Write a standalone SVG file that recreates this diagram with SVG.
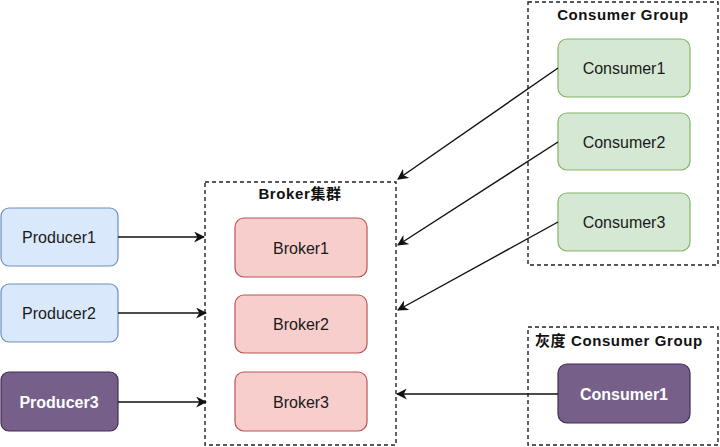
<svg xmlns="http://www.w3.org/2000/svg" width="720" height="447" viewBox="0 0 720 447">
  <style>
    .lbl { font-family: "Liberation Sans", "Noto Sans CJK SC", sans-serif; font-size: 16px; text-anchor: middle; dominant-baseline: central; fill: #1a1a1a; }
    .ttl { font-family: "Liberation Sans", "Noto Sans CJK SC", sans-serif; font-size: 15px; font-weight: bold; letter-spacing: 0.6px; dominant-baseline: central; fill: #111; }
    .grp { fill: none; stroke: #222; stroke-width: 1.4; stroke-dasharray: 4 3; }
    .prod { fill: #dae8fc; stroke: #6c8ebf; stroke-width: 1.2; }
    .brk { fill: #f8cecc; stroke: #b85450; stroke-width: 1.2; }
    .con { fill: #d5e8d4; stroke: #82b366; stroke-width: 1.2; }
    .gray { fill: #76608a; stroke: #432d57; stroke-width: 1.2; }
    .wt { fill: #ffffff; font-weight: bold; }
    .edge { fill: none; stroke: #111; stroke-width: 1.4; marker-end: url(#arrow); }
  </style>
  <defs>
    <marker id="arrow" viewBox="0 0 10 10" refX="9" refY="5" markerWidth="11" markerHeight="11" markerUnits="userSpaceOnUse" orient="auto">
      <path d="M0,0 L10,5 L0,10 L3,5 Z" fill="#111"/>
    </marker>
  </defs>
  <rect width="720" height="447" fill="#ffffff"/>

  <!-- containers -->
  <g id="broker-cluster">
    <rect class="grp" x="205" y="182" width="191" height="263"/>
    <text class="ttl" x="300" y="193" text-anchor="middle">Broker集群</text>
  </g>
  <g id="consumer-group">
    <rect class="grp" x="528" y="2" width="190" height="263"/>
    <text class="ttl" x="623" y="14" text-anchor="middle">Consumer Group</text>
  </g>
  <g id="gray-consumer-group">
    <rect class="grp" x="528" y="327" width="190" height="118"/>
    <text class="ttl" x="535" y="340">灰度 Consumer Group</text>
  </g>

  <!-- producers -->
  <g id="producer1">
    <rect class="prod" x="1" y="208" width="117" height="58" rx="8"/>
    <text class="lbl" x="59" y="237">Producer1</text>
  </g>
  <g id="producer2">
    <rect class="prod" x="1" y="284" width="117" height="58" rx="8"/>
    <text class="lbl" x="59" y="313">Producer2</text>
  </g>
  <g id="producer3">
    <rect class="gray" x="1" y="372" width="117" height="59" rx="8"/>
    <text class="lbl wt" x="59" y="402">Producer3</text>
  </g>

  <!-- brokers -->
  <g id="broker1">
    <rect class="brk" x="235" y="218" width="132" height="59" rx="9"/>
    <text class="lbl" x="301" y="248">Broker1</text>
  </g>
  <g id="broker2">
    <rect class="brk" x="235" y="295" width="132" height="58" rx="9"/>
    <text class="lbl" x="301" y="324">Broker2</text>
  </g>
  <g id="broker3">
    <rect class="brk" x="235" y="372" width="132" height="59" rx="9"/>
    <text class="lbl" x="301" y="402">Broker3</text>
  </g>

  <!-- consumers -->
  <g id="consumer1">
    <rect class="con" x="558" y="39" width="132" height="58" rx="9"/>
    <text class="lbl" x="624" y="68">Consumer1</text>
  </g>
  <g id="consumer2">
    <rect class="con" x="558" y="113" width="132" height="57" rx="9"/>
    <text class="lbl" x="624" y="142">Consumer2</text>
  </g>
  <g id="consumer3">
    <rect class="con" x="558" y="193" width="132" height="58" rx="9"/>
    <text class="lbl" x="624" y="222">Consumer3</text>
  </g>
  <g id="gray-consumer1">
    <rect class="gray" x="558" y="364" width="132" height="59" rx="9"/>
    <text class="lbl wt" x="624" y="394">Consumer1</text>
  </g>

  <!-- connectors -->
  <g id="connectors">
    <path class="edge" d="M118,237 L204,237"/>
    <path class="edge" d="M118,313 L206,313"/>
    <path class="edge" d="M118,402 L206,402"/>
    <path class="edge" d="M558,68 L398,179"/>
    <path class="edge" d="M558,142 L398,245"/>
    <path class="edge" d="M558,222 L398,310"/>
    <path class="edge" d="M558,394 L397,394"/>
  </g>
</svg>
